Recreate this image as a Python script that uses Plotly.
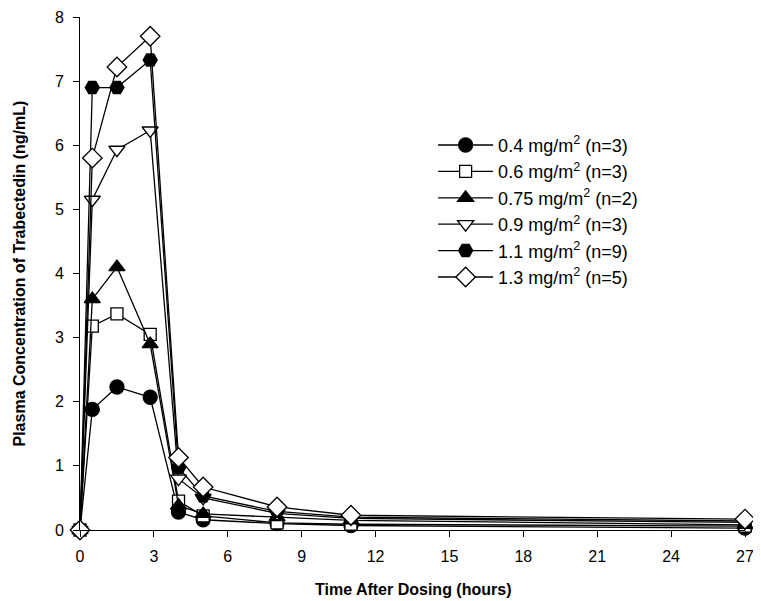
import plotly.graph_objects as go

times = [0, 0.5, 1.5, 2.85, 4, 5, 8, 11, 27]
labels = ["0.4 mg/m<sup>2</sup> (n=3)", "0.6 mg/m<sup>2</sup> (n=3)", "0.75 mg/m<sup>2</sup> (n=2)",
          "0.9 mg/m<sup>2</sup> (n=3)", "1.1 mg/m<sup>2</sup> (n=9)", "1.3 mg/m<sup>2</sup> (n=5)"]
c04 = [0, 1.88, 2.23, 2.07, 0.28, 0.16, 0.10, 0.07, 0.03]
c06 = [0, 3.18, 3.37, 3.05, 0.45, 0.22, 0.11, 0.09, 0.06]
c075 = [0, 3.60, 4.10, 2.90, 0.38, 0.25, 0.20, 0.15, 0.08]
c09 = [0, 5.15, 5.93, 6.23, 0.80, 0.50, 0.26, 0.18, 0.12]
c11 = [0, 6.90, 6.90, 7.33, 0.97, 0.53, 0.29, 0.20, 0.14]
c13 = [0, 5.80, 7.22, 7.70, 1.13, 0.67, 0.36, 0.23, 0.17]
series = [c04, c06, c075, c09, c11, c13]
x_ticks = [0, 3, 6, 9, 12, 15, 18, 21, 24, 27]
y_ticks = [0, 1, 2, 3, 4, 5, 6, 7, 8]
x_title = "Time After Dosing (hours)"
y_title = "Plasma Concentration of Trabectedin (ng/mL)"

symbols = ["circle", "square", "triangle-up", "triangle-down", "hexagon2", "diamond"]
fills = ["black", "white", "black", "white", "black", "white"]
sizes = [14, 12, 14, 14, 14, 15]

fig = go.Figure()
for lab, ys, sym, fc, sz in zip(labels, series, symbols, fills, sizes):
    fig.add_trace(go.Scatter(
        x=times, y=ys, name=lab, mode="lines+markers",
        line=dict(color="black", width=1.3),
        marker=dict(symbol=sym, size=sz, color=fc, line=dict(color="black", width=1.3)),
        cliponaxis=False,
    ))

fig.update_layout(
    width=753, height=593,
    margin=dict(l=72, r=16, t=9, b=71, autoexpand=False),
    paper_bgcolor="white", plot_bgcolor="white",
    font=dict(family="Liberation Sans, Arial, sans-serif", size=16, color="black"),
    showlegend=True,
    legend=dict(x=0.531, y=0.786, xanchor="left", yanchor="top",
                font=dict(size=18), itemwidth=55, bgcolor="rgba(0,0,0,0)"),
    xaxis=dict(range=[0, 27], tickvals=x_ticks, automargin=False,
               showline=True, linecolor="black", linewidth=1, ticks="outside",
               ticklen=6, tickcolor="black", showgrid=False, zeroline=False,
               ticklabelstandoff=6),
    yaxis=dict(range=[0, 8], tickvals=y_ticks, automargin=False,
               showline=True, linecolor="black", linewidth=1, ticks="outside",
               ticklen=6, tickcolor="black", showgrid=False, zeroline=False,
               ticklabelstandoff=6),
    annotations=[
        dict(text="<b>" + x_title + "</b>", xref="paper", yref="paper", x=0.5, y=0,
             xanchor="center", yanchor="middle", yshift=-59, showarrow=False,
             font=dict(size=16)),
        dict(text="<b>" + y_title + "</b>", xref="paper", yref="paper", x=0, y=0.5,
             xanchor="center", yanchor="middle", xshift=-61, textangle=-90, showarrow=False,
             font=dict(size=16)),
    ],
)

fig.write_html("out.html")
